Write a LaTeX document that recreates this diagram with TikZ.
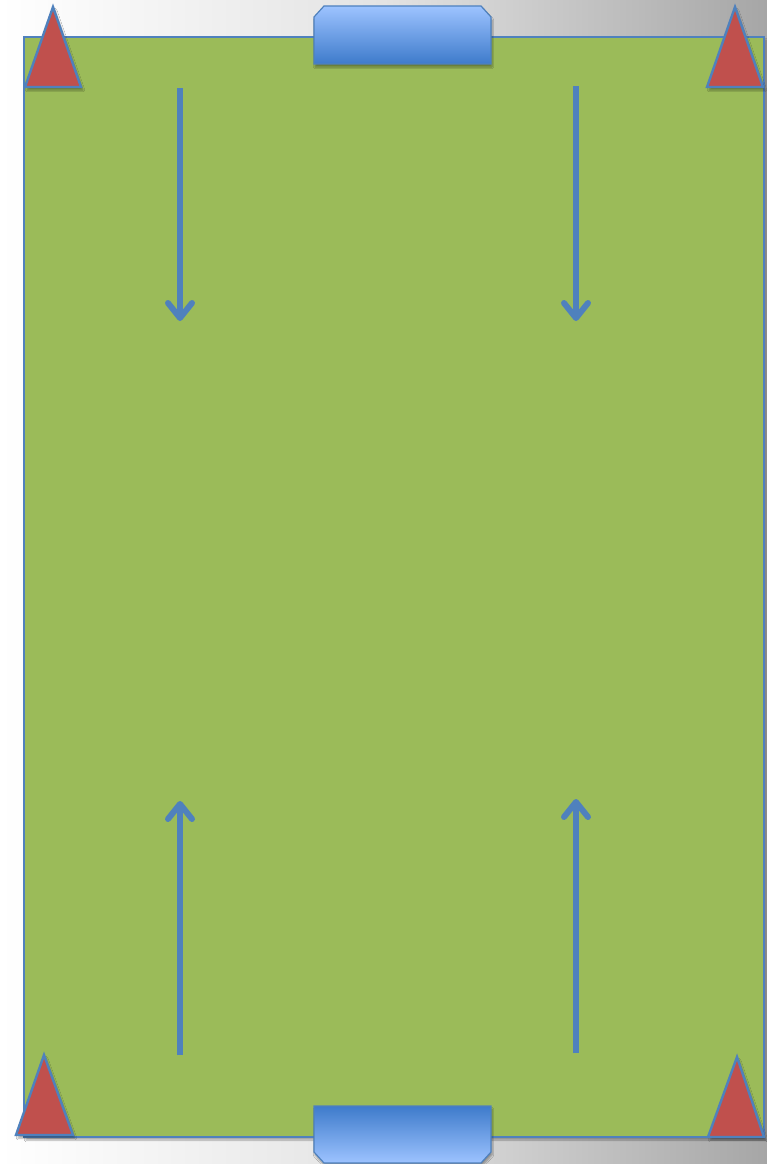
\documentclass[tikz,border=0pt]{standalone}
\usetikzlibrary{arrows.meta,shadows.blur}
\definecolor{fieldgreen}{HTML}{9BBB59}
\definecolor{conered}{HTML}{C0504D}
\definecolor{lineblue}{HTML}{4F81BD}
\definecolor{goallight}{HTML}{9DC3FF}
\definecolor{goaldark}{HTML}{3E7BCB}
\definecolor{bgright}{HTML}{A6A6A6}
\tikzset{
  cone/.style={fill=conered, draw=lineblue, line width=2.4pt, line join=miter,
    blur shadow={shadow xshift=2pt, shadow yshift=-3pt, shadow blur steps=6, shadow opacity=35}},
  goal/.style={draw=lineblue, line width=1.2pt,
    blur shadow={shadow xshift=1pt, shadow yshift=-3pt, shadow blur steps=6, shadow opacity=35}},
  runarrow/.style={draw=lineblue, line width=6pt,
    -{Straight Barb[length=15pt, width=24pt, line cap=round, line join=round]}},
}
\begin{document}
\begin{tikzpicture}[x=1pt,y=-1pt]
  % background
  \shade[left color=white, right color=bgright, middle color=gray!22] (0,0) rectangle (767,1164);
  \useasboundingbox (0,0) rectangle (767,1164);
  % field
  \path[fill=fieldgreen, draw=lineblue, line width=2pt,
    blur shadow={shadow xshift=2pt, shadow yshift=-3pt, shadow blur steps=6, shadow opacity=30}]
    (24,37) coordinate (fieldNW) rectangle (764,1137) coordinate (fieldSE);
  % goals
  \path[goal, top color=goallight, bottom color=goaldark]
    (314,64) -- (314,17) -- (324,6) -- (481,6) -- (491,17) -- (491,64) -- cycle;
  \coordinate (goalTop) at (402,35);
  \path[goal, top color=goaldark, bottom color=goallight]
    (314,1106) -- (314,1152) -- (324,1163) -- (481,1163) -- (491,1152) -- (491,1106) -- cycle;
  \coordinate (goalBottom) at (402,1135);
  % cones
  \path[cone] (25,87) -- (53,7) -- (81,87) -- cycle;
  \path[cone] (707,87) -- (735,7) -- (763,87) -- cycle;
  \path[cone] (16,1135) -- (44,1055) -- (73,1135) -- cycle;
  \path[cone] (708,1137) -- (737,1057) -- (764,1137) -- cycle;
  % arrows
  \coordinate (a1s) at (180,88);   \coordinate (a1e) at (180,321);
  \coordinate (a2s) at (576,86);   \coordinate (a2e) at (576,321);
  \coordinate (a3s) at (180,1055); \coordinate (a3e) at (180,801);
  \coordinate (a4s) at (576,1053); \coordinate (a4e) at (576,799);
  \draw[runarrow] (a1s) -- (a1e);
  \draw[runarrow] (a2s) -- (a2e);
  \draw[runarrow] (a3s) -- (a3e);
  \draw[runarrow] (a4s) -- (a4e);
\end{tikzpicture}
\end{document}
